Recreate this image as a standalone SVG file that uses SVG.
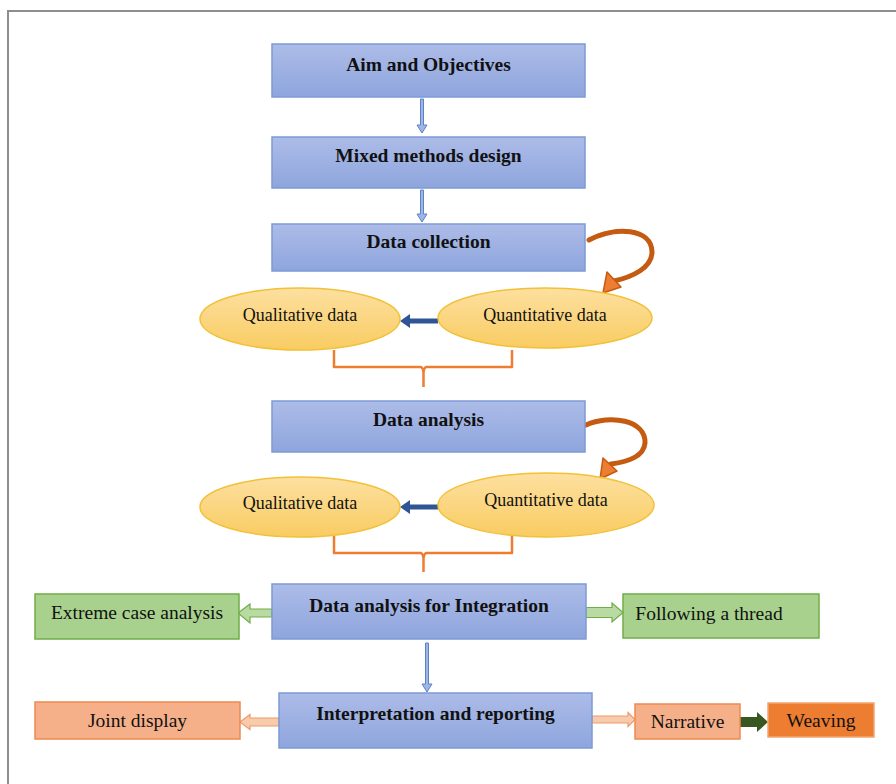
<svg xmlns="http://www.w3.org/2000/svg" width="896" height="784" viewBox="0 0 896 784">
<defs>
<linearGradient id="gBlue" x1="0" y1="0" x2="0" y2="1">
<stop offset="0" stop-color="#adbce8"/><stop offset="1" stop-color="#8ea5dd"/>
</linearGradient>
<linearGradient id="gGold" x1="0" y1="0" x2="0" y2="1">
<stop offset="0" stop-color="#fde0a0"/><stop offset="1" stop-color="#f9cc62"/>
</linearGradient>
<style>
.blue{fill:url(#gBlue);stroke:#7d9bd5;stroke-width:1.5}
.ell{fill:url(#gGold);stroke:#f2c139;stroke-width:1.5}
.grn{fill:#a9d18e;stroke:#70ad47;stroke-width:1.5}
.org{fill:#f5b08a;stroke:#ed8a50;stroke-width:1.5}
.wv{fill:#ed7d31;stroke:#f4a56f;stroke-width:1.5}
.bt{font-family:"Liberation Serif",serif;font-weight:bold;font-size:19.5px;fill:#111;text-anchor:middle}
.et{font-family:"Liberation Serif",serif;font-size:18px;fill:#111;text-anchor:middle}
.rt{font-family:"Liberation Serif",serif;font-size:19.5px;fill:#111;text-anchor:middle}
.down{fill:#9fb6e3;stroke:#5b82c9;stroke-width:1}
.bk{fill:none;stroke:#ed7d31;stroke-width:2.5;stroke-linejoin:round}
.curve{fill:none;stroke:#c55a11;stroke-width:5;stroke-linecap:round}
.chead{fill:#ed7d31;stroke:#c55a11;stroke-width:1.5;stroke-linejoin:round}
.dblue{fill:#2f5597}
.garr{fill:#b9dba3;stroke:#70ad47;stroke-width:1.2}
.oarr{fill:#f8cbad;stroke:#f09a6a;stroke-width:1.2}
.dgarr{fill:#385723}
</style>
</defs>
<rect width="896" height="784" fill="#ffffff"/>
<g id="frame" fill="none" stroke="#8e8e8e" stroke-width="2">
<path d="M8,784 V11 H896"/>
</g>

<g id="connectors">
<path class="down" d="M420.5,99 h3 v26 h3.5 l-5,8 l-5,-8 h3.5 z"/>
<path class="down" d="M420.5,190 h3 v24 h3.5 l-5,8 l-5,-8 h3.5 z"/>
<path class="down" d="M425.5,643 h3 v41 h3.5 l-5,8 l-5,-8 h3.5 z"/>
<path class="dblue" d="M438,318.5 h-28 v-4.5 l-10,7 l10,7 v-4.5 h28 z"/>
<path class="dblue" d="M438,504.5 h-28 v-4.5 l-10,7 l10,7 v-4.5 h28 z"/>
<path class="bk" d="M334,350 V367 H421 Q423,368 423.5,372 V387 M423.5,372 Q424,368 426,367 H512 V350"/>
<path class="bk" d="M334,536 V553 H421 Q423,554 423.5,558 V572 M423.5,558 Q424,554 426,553 H512 V536"/>
<path class="curve" d="M589,240 C615,226 652,228 652,252 C652,268 632,277 614,281"/>
<path class="chead" d="M603,293 L607,272 L621,287 Z"/>
<path class="curve" d="M586,425 C610,414 646,420 645,443 C644,456 628,462 611,464"/>
<path class="chead" d="M600,479 L603,458 L617,471 Z"/>
<path class="garr" d="M272,609 H250 V604 L238,613 L250,623 V617 H272 Z"/>
<path class="garr" d="M586,607.5 H612 V603 L623,612.5 L612,622 V617.5 H586 Z"/>
<path class="oarr" d="M279,718 H250 V714.5 L240,722 L250,729.5 V726 H279 Z"/>
<path class="oarr" d="M592,716 H628 V712.5 L635,719.5 L628,726.5 V723 H592 Z"/>
<path class="dgarr" d="M740,717 H757 V712 L768,722 L757,732 V727 H740 Z"/>
</g>

<g id="aim"><rect class="blue" x="272" y="44" width="313" height="53"/><text class="bt" x="428.5" y="71">Aim and Objectives</text></g>
<g id="mixed"><rect class="blue" x="272" y="137" width="313" height="51"/><text class="bt" x="428.5" y="162">Mixed methods design</text></g>
<g id="collection"><rect class="blue" x="272" y="224" width="313" height="47"/><text class="bt" x="428.5" y="248">Data collection</text></g>
<g id="qual1"><ellipse class="ell" cx="300" cy="319" rx="100" ry="31"/><text class="et" x="300" y="321">Qualitative data</text></g>
<g id="quan1"><ellipse class="ell" cx="545" cy="318" rx="107" ry="30"/><text class="et" x="545" y="321">Quantitative data</text></g>
<g id="analysis"><rect class="blue" x="272" y="401" width="313" height="51"/><text class="bt" x="428.5" y="426">Data analysis</text></g>
<g id="qual2"><ellipse class="ell" cx="300" cy="507" rx="100" ry="30"/><text class="et" x="300" y="509">Qualitative data</text></g>
<g id="quan2"><ellipse class="ell" cx="546" cy="505" rx="108" ry="32"/><text class="et" x="546" y="506">Quantitative data</text></g>
<g id="integration"><rect class="blue" x="272" y="584" width="314" height="55"/><text class="bt" x="429" y="612">Data analysis for Integration</text></g>
<g id="extreme"><rect class="grn" x="35" y="594" width="204" height="45"/><text class="rt" x="137" y="619">Extreme case analysis</text></g>
<g id="thread"><rect class="grn" x="623" y="594" width="196" height="44"/><text class="rt" x="709" y="620">Following a thread</text></g>
<g id="interpretation"><rect class="blue" x="279" y="693" width="313" height="55"/><text class="bt" x="435.5" y="720">Interpretation and reporting</text></g>
<g id="joint"><rect class="org" x="35" y="702" width="205" height="37"/><text class="rt" x="137.5" y="727">Joint display</text></g>
<g id="narrative"><rect class="org" x="635" y="704" width="105" height="35"/><text class="rt" x="687.5" y="728">Narrative</text></g>
<g id="weaving"><rect class="wv" x="768" y="703" width="106" height="34"/><text class="rt" x="821" y="727">Weaving</text></g>
</svg>
